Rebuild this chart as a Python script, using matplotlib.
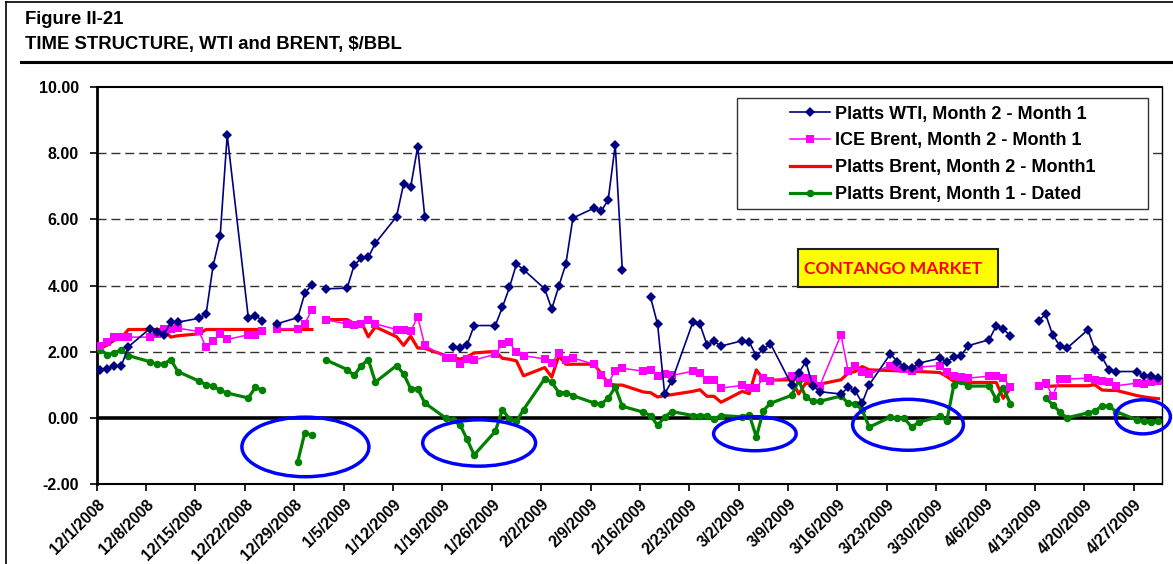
import numpy as np
import pandas as pd
import matplotlib
matplotlib.use("Agg")
import matplotlib.pyplot as plt
import matplotlib.dates as mdates
from matplotlib.patches import Ellipse, Rectangle
from matplotlib.lines import Line2D

plt.rcParams['font.family'] = ['Liberation Sans', 'DejaVu Sans']

nan = np.nan

# trading days (Mon-Fri), 12/1/2008 .. 4/30/2009, one row per week below
days = pd.bdate_range("2008-12-01", "2009-04-30")

wti = [
    1.45, 1.48, 1.56, 1.58, 2.15,
    2.69, 2.60, 2.50, 2.89, 2.89,
    3.01, 3.13, 4.60, 5.50, 8.55,
    3.01, 3.09, 2.93, nan, 2.84,
    3.03, 3.77, 4.02, nan, 3.90,
    3.92, 4.62, 4.82, 4.85, 5.28,
    6.08, 7.07, 6.97, 8.20, 6.08,
    nan, 2.13, 2.10, 2.21, 2.79,
    2.79, 3.34, 3.94, 4.65, 4.48,
    3.90, 3.29, 3.98, 4.65, 6.04,
    6.34, 6.24, 6.59, 8.25, 4.48,
    nan, 3.65, 2.83, 0.73, 1.10,
    2.89, 2.83, 2.21, 2.31, 2.17,
    2.33, 2.29, 1.87, 2.08, 2.24,
    1.00, 1.35, 1.70, 0.97, 0.79,
    0.72, 0.92, 0.82, 0.45, 1.00,
    1.93, 1.70, 1.55, 1.50, 1.65,
    1.80, 1.70, 1.83, 1.87, 2.18,
    2.36, 2.78, 2.68, 2.48, nan,
    2.94, 3.13, 2.51, 2.18, 2.10,
    2.66, 2.05, 1.83, 1.45, 1.40,
    1.40, 1.25, 1.27, 1.20,
]

ice_brent = [
    2.17, 2.29, 2.44, 2.44, 2.44,
    2.44, 2.54, 2.69, 2.69, 2.71,
    2.61, 2.13, 2.31, 2.54, 2.37,
    2.51, 2.51, 2.61, nan, 2.69,
    2.69, 2.84, 3.27, nan, 2.96,
    2.84, 2.81, 2.84, 2.96, 2.84,
    2.67, 2.67, 2.61, 3.06, 2.19,
    1.82, 1.80, 1.62, 1.78, 1.75,
    1.92, 2.24, 2.28, 1.98, 1.88,
    1.78, 1.66, 1.97, 1.76, 1.81,
    1.62, 1.28, 1.06, 1.41, 1.50,
    1.41, 1.44, 1.25, 1.31, 1.28,
    1.41, 1.36, 1.15, 1.14, 0.90,
    0.98, 0.90, 0.90, 1.21, 1.11,
    1.25, 1.23, 1.20, 1.16, 0.97,
    2.51, 1.43, 1.58, 1.40, 1.32,
    1.58, 1.53, 1.48, 1.43, 1.53,
    1.58, 1.38, 1.26, 1.23, 1.20,
    1.26, 1.25, 1.20, 0.93, nan,
    0.97, 1.05, 0.67, 1.17, 1.17,
    1.20, 1.15, 1.10, 1.07, 0.97,
    1.05, 1.02, 1.07, 1.10,
]

platts_brent = [
    2.10, 2.20, 2.35, 2.42, 2.67,
    2.67, 2.67, 2.67, 2.44, 2.48,
    2.54, 2.67, 2.67, 2.67, 2.67,
    2.67, 2.67, 2.67, nan, 2.67,
    2.67, 2.67, 2.67, nan, 2.97,
    2.97, 2.85, 2.90, 2.45, 2.75,
    2.45, 2.19, 2.47, 2.11, 2.10,
    1.88, 1.82, 1.77, 1.85, 1.96,
    2.01, 1.80, 1.77, 1.72, 1.27,
    1.52, 1.23, 1.87, 1.62, 1.62,
    1.62, 1.34, 1.04, 0.99, 0.99,
    0.78, 0.76, 0.63, 0.67, 0.70,
    0.80, 0.85, 0.65, 0.65, 0.47,
    0.80, 0.73, 1.45, 1.16, 1.14,
    1.15, 0.72, 1.05, 1.00, 1.02,
    1.15, 1.35, 1.40, 1.55, 1.45,
    1.43, 1.42, 1.41, 1.40, 1.40,
    1.37, 1.25, 1.10, 1.07, 1.07,
    1.07, 1.07, 0.59, 0.90, nan,
    nan, 0.95, 0.96, 0.97, 0.97,
    0.97, 1.00, 0.84, 0.83, 0.83,
    0.67, 0.63, 0.60, 0.58,
]

dated_spread = [
    2.06, 1.91, 1.96, 2.06, 1.88,
    1.70, 1.62, 1.63, 1.76, 1.40,
    1.11, 1.00, 0.96, 0.83, 0.75,
    0.60, 0.93, 0.83, nan, nan,
    -1.32, -0.45, -0.53, nan, 1.75,
    1.46, 1.28, 1.58, 1.76, 1.08,
    1.58, 1.33, 0.88, 0.88, 0.45,
    -0.01, -0.08, -0.21, -0.65, -1.12,
    -0.41, 0.25, -0.03, -0.11, 0.25,
    1.18, 1.08, 0.76, 0.76, 0.67,
    0.45, 0.42, 0.59, 0.93, 0.35,
    0.17, 0.07, -0.23, 0.02, 0.19,
    0.07, 0.07, 0.07, -0.03, 0.07,
    0.03, 0.09, -0.58, 0.22, 0.44,
    0.68, 1.13, 0.63, 0.50, 0.50,
    0.66, 0.44, 0.43, 0.24, -0.28,
    0.02, -0.01, -0.02, -0.28, -0.14,
    0.05, -0.09, 1.00, 1.10, 0.96,
    0.96, 0.56, 0.91, 0.43, nan,
    nan, 0.60, 0.40, 0.18, 0.00,
    0.15, 0.20, 0.37, 0.35, 0.19,
    -0.07, -0.11, -0.13, -0.10,
]

series_labels = [
    "Platts WTI, Month 2 - Month 1",
    "ICE Brent, Month 2 - Month 1",
    "Platts Brent, Month 2 - Month1",
    "Platts Brent, Month 1 - Dated",
]

tick_dates = pd.date_range("2008-12-01", "2009-04-27", freq="7D")
tick_labels = [f"{d.month}/{d.day}/{d.year}" for d in tick_dates]
y_ticks = [-2, 0, 2, 4, 6, 8, 10]

W, H = 1173, 564
fig = plt.figure(figsize=(W / 100, H / 100), dpi=100)


def fx(px):
    return px / W


def fy(py):
    return 1 - py / H


ax = fig.add_axes([fx(96.7), fy(484), fx(1162) - fx(96.7), fy(87) - fy(484)])

# excel plots each day in the middle of its slot
x = days + pd.Timedelta(hours=12)

styles = [
    dict(color="#000080", lw=1.2, marker="D", ms=5.2, zorder=6),
    dict(color="#FF00FF", lw=1.1, marker="s", ms=5.2, zorder=5),
    dict(color="#FF0000", lw=2.3, marker=None, zorder=4),
    dict(color="#008000", lw=2.3, marker="o", ms=5.4, zorder=4.5),
]
for vals, st in zip([wti, ice_brent, platts_brent, dated_spread], styles):
    ax.plot(x, vals, markeredgewidth=0, **st)

# grid and zero line
for yv in [2, 4, 6, 8]:
    ax.axhline(yv, color="#333333", lw=1.0, ls=(0, (6.5, 3.5)), zorder=1)
ax.axhline(0, color="black", lw=2.6, zorder=3)

ax.set_ylim(-2, 10)
ax.set_xlim(pd.Timestamp("2008-12-01"), pd.Timestamp("2009-05-01"))
ax.set_yticks(y_ticks)
ax.set_yticklabels([f"{v:.2f}" for v in y_ticks], fontsize=11.5, fontweight="bold")
ax.set_xticks(tick_dates)
ax.set_xticklabels(tick_labels, fontsize=11.3, fontweight="bold",
                   rotation=45, ha="right", rotation_mode="anchor")
ax.tick_params(axis="both", direction="out", length=5, width=1.2, color="black")
ax.tick_params(axis="x", pad=4)
ax.tick_params(axis="y", pad=8)
ax.spines["left"].set_linewidth(2.0)
ax.spines["bottom"].set_linewidth(1.5)
ax.spines["top"].set_linewidth(1.5)
ax.spines["right"].set_linewidth(1.0)

# blue ellipses marking backwardation dips (center date, center y, width days, height)
ellipses = [
    ("2008-12-30 14:00", -0.88, 18.0, 1.80),
    ("2009-01-24 05:00", -0.76, 16.0, 1.40),
    ("2009-03-04 07:00", -0.48, 11.7, 1.03),
    ("2009-03-26 00:00", -0.21, 15.7, 1.54),
    ("2009-04-28 07:00", 0.03, 7.8, 1.03),
]
for c, cy, w, h in ellipses:
    e = Ellipse((mdates.date2num(pd.Timestamp(c)), cy), w, h, fill=False,
                edgecolor="#0000FF", lw=2.5, zorder=7, clip_on=False)
    ax.add_patch(e)

# contango box
fig.patches.append(Rectangle((fx(798), fy(287)), fx(998) - fx(798), fy(249) - fy(287),
                             transform=fig.transFigure, facecolor="#FFFF00",
                             edgecolor="#222222", lw=1.5, zorder=8))
fig.text(fx(804), fy(273.5), "CONTANGO MARKET", color="#FF0000", fontsize=12.6,
         fontweight="bold", family=["Lato", "DejaVu Sans"], va="baseline", zorder=9)

# legend with excel-like wide frame
fig.patches.append(Rectangle((fx(737), fy(209)), fx(1148) - fx(737), fy(98) - fy(209),
                             transform=fig.transFigure, facecolor="white",
                             edgecolor="#333333", lw=1.0, zorder=8))
handles = [Line2D([], [], markeredgewidth=0, **{k: v for k, v in st.items() if k != "zorder"})
           for st in styles]
leg = fig.legend(handles, series_labels, loc="upper left",
                 bbox_to_anchor=(fx(790), fy(105.5)), frameon=False,
                 prop=dict(size=13, weight="bold"), handlelength=2.2,
                 handletextpad=0.3, labelspacing=0.55, borderpad=0, borderaxespad=0)
leg.set_zorder(9)

# header
fig.text(fx(25), fy(23.5), "Figure II-21", fontsize=13.3, fontweight="bold", va="baseline")
fig.text(fx(25), fy(48.5), "TIME STRUCTURE, WTI and BRENT, $/BBL", fontsize=13.3,
         fontweight="bold", va="baseline")
fig.lines.append(Line2D([fx(21), 1], [fy(62), fy(62)], transform=fig.transFigure,
                        color="black", lw=2.2))
fig.lines.append(Line2D([fx(5.5), fx(5.5)], [0, fy(1.5)], transform=fig.transFigure,
                        color="black", lw=1.2))
fig.lines.append(Line2D([fx(5.5), 1], [fy(1.5), fy(1.5)], transform=fig.transFigure,
                        color="black", lw=1.2))

fig.savefig("out.png", dpi=100)
